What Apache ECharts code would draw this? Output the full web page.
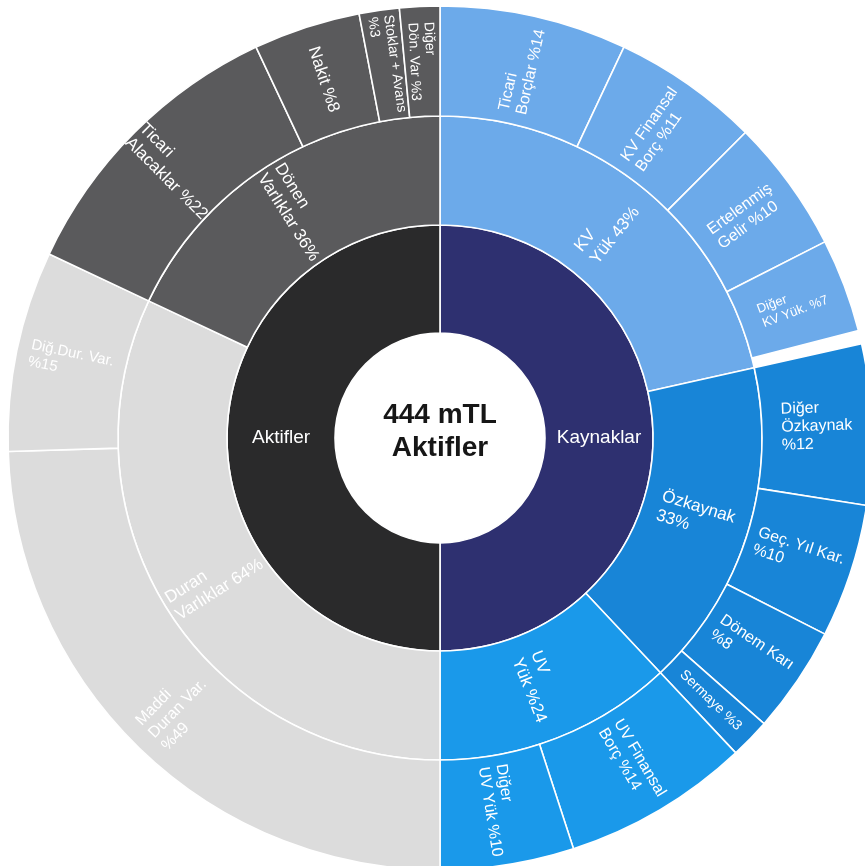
<!DOCTYPE html>
<html>
<head>
<meta charset="utf-8">
<script src="https://cdn.jsdelivr.net/npm/echarts@6/dist/echarts.min.js"></script>
<style>
  html, body { margin: 0; padding: 0; background: #ffffff; }
  #chart { width: 865px; height: 866px; }
</style>
</head>
<body>
<div id="chart"></div>
<script>
// Inner ring
const rootLabels = ['Kaynaklar', 'Aktifler'];

// Kaynaklar: middle ring and its slices
const kaynakLabels = ['KV\nYük {v}%', 'Özkaynak\n{v}%', 'UV\nYük %{v}'];
const kaynakValues = [43, 33, 24];

const kvLabels = ['Ticari\nBorçlar %{v}', 'KV Finansal\nBorç %{v}', 'Ertelenmiş\nGelir %{v}', 'Diğer\nKV Yük. %{v}'];
const kvValues = [14, 11, 10, 7];

const ozLabels = ['Diğer\nÖzkaynak\n%{v}', 'Geç. Yıl Kar.\n%{v}', 'Dönem Karı\n%{v}', 'Sermaye %{v}'];
const ozValues = [12, 10, 8, 3];

const uvLabels = ['UV Finansal\nBorç %{v}', 'Diğer\nUV Yük %{v}'];
const uvValues = [14, 10];

// Aktifler: middle ring and its slices
const aktifLabels = ['Duran\nVarlıklar {v}%', 'Dönen\nVarlıklar {v}%'];
const aktifValues = [64, 36];

const duranLabels = ['Maddi\nDuran Var.\n%{v}', 'Diğ.Dur. Var.\n%{v}'];
const duranValues = [49, 15];

const donenLabels = ['Ticari\nAlacaklar %{v}', 'Nakit %{v}', 'Stoklar + Avans\n%{v}', 'Diğer\nDön. Var %{v}'];
const donenValues = [22, 8, 3, 3];

// Hole caption
const centerLines = ['444 mTL', 'Aktifler'];

const FONT = '"Liberation Sans", Arial, sans-serif';

// Multi-line labels: lines left-aligned inside a block centred on the slice
function labelCfg(size) {
  return {
    fontSize: size,
    formatter: function (p) {
      return p.name.split('\n').map(function (l) { return '{t|' + l + '}'; }).join('\n');
    },
    rich: {
      t: { align: 'left', fontSize: size, lineHeight: Math.round(size * 1.15), color: '#ffffff', fontFamily: FONT }
    }
  };
}

// Outer-ring slices share the colour of their middle-ring parent
function leafNodes(labels, values, color, sizes) {
  return labels.map(function (tpl, i) {
    return {
      name: tpl.replace('{v}', values[i]),
      value: values[i],
      itemStyle: { color: color },
      label: labelCfg(sizes ? sizes[i] : 16)
    };
  });
}

function midNode(tpl, value, color, childLabels, childValues, childSizes) {
  return {
    name: tpl.replace('{v}', value),
    value: value,
    itemStyle: { color: color },
    label: labelCfg(17),
    children: leafNodes(childLabels, childValues, color, childSizes)
  };
}

const kaynakColors = ['#6caaea', '#1885d7', '#1a99ea'];
const aktifColors = ['#dcdcdc', '#5a5a5c'];

const kaynakChildren = [
  midNode(kaynakLabels[0], kaynakValues[0], kaynakColors[0], kvLabels, kvValues, [16, 16, 16, 13]),
  midNode(kaynakLabels[1], kaynakValues[1], kaynakColors[1], ozLabels, ozValues, [16, 16, 16, 14]),
  midNode(kaynakLabels[2], kaynakValues[2], kaynakColors[2], uvLabels, uvValues, [16, 16])
];

const aktifChildren = [
  midNode(aktifLabels[0], aktifValues[0], aktifColors[0], duranLabels, duranValues, [16, 15]),
  midNode(aktifLabels[1], aktifValues[1], aktifColors[1], donenLabels, donenValues, [17, 17, 14, 14])
];

function sum(arr) { return arr.reduce(function (a, b) { return a + b; }, 0); }

const data = [
  {
    name: rootLabels[0],
    value: sum(kaynakValues),
    itemStyle: { color: '#2e3070' },
    label: { rotate: 0, fontSize: 19 },
    children: kaynakChildren
  },
  {
    name: rootLabels[1],
    value: sum(aktifValues),
    itemStyle: { color: '#2a2a2b' },
    label: { rotate: 0, fontSize: 19 },
    children: aktifChildren
  }
];

const chart = echarts.init(document.getElementById('chart'), null, { renderer: 'canvas' });
chart.setOption({
  backgroundColor: '#ffffff',
  animation: false,
  graphic: [{
    type: 'text',
    x: 440,
    y: 432,
    silent: true,
    style: {
      text: centerLines.join('\n'),
      fontSize: 28,
      fontWeight: 'bold',
      fontFamily: FONT,
      fill: '#161616',
      align: 'center',
      verticalAlign: 'middle',
      lineHeight: 33
    }
  }],
  series: [{
    type: 'sunburst',
    center: [440, 438],
    radius: [105, 432],
    startAngle: 90,
    clockwise: true,
    sort: null,
    nodeClick: false,
    emphasis: { disabled: true },
    itemStyle: { borderColor: '#ffffff', borderWidth: 1.6 },
    label: { rotate: 'radial', color: '#ffffff', fontFamily: FONT },
    levels: [
      {},
      { r0: 105, r: 213 },
      { r0: 213, r: 322 },
      { r0: 322, r: 432 }
    ],
    data: data
  }]
});
</script>
</body>
</html>
